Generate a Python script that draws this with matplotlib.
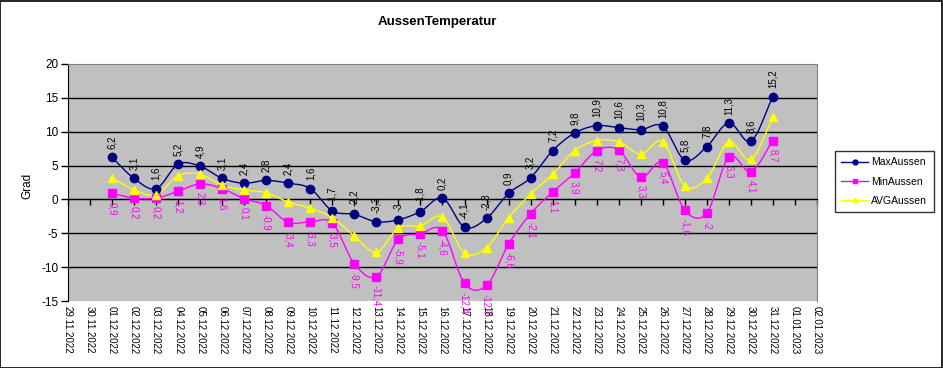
import matplotlib
matplotlib.use("Agg")
import matplotlib.pyplot as plt
import matplotlib.transforms as mtransforms
from matplotlib.lines import Line2D
from matplotlib.patches import Rectangle
import numpy as np
import pandas as pd

plt.rcParams.update({
    "font.family": ["Liberation Sans", "DejaVu Sans"],
})

# ================================================================
# Data
# ================================================================
axis_start = "2022-11-29"
axis_end = "2023-01-02"
data_start = "2022-12-01"

max_aussen = [6.2, 3.1, 1.6, 5.2, 4.9, 3.1, 2.4, 2.8, 2.4, 1.6, -1.7, -2.2, -3.3, -3, -1.8,
              0.2, -4.1, -2.8, 0.9, 3.2, 7.2, 9.8, 10.9, 10.6, 10.3, 10.8, 5.8, 7.8, 11.3, 8.6, 15.2]
min_aussen = [0.9, 0.2, 0.2, 1.2, 2.3, 1.6, 0.1, -0.9, -3.4, -3.3, -3.5, -9.5, -11.4, -5.9, -5.1,
              -4.6, -12.4, -12.7, -6.6, -2.1, 1.1, 3.9, 7.2, 7.3, 3.3, 5.4, -1.6, -2, 6.3, 4.1, 8.7]
avg_aussen = [3.2, 1.4, 0.7, 3.5, 3.7, 2.1, 1.4, 1.0, -0.4, -1.3, -2.7, -5.4, -7.8, -4.2, -3.9,
              -2.6, -7.9, -7.1, -2.7, 0.8, 3.7, 7.2, 8.7, 8.5, 6.7, 8.5, 2.0, 3.1, 8.5, 5.9, 12.1]

y_ticks = [-15, -10, -5, 0, 5, 10, 15, 20]

axis_dates = pd.date_range(axis_start, axis_end, freq="D")
tick_labels = [d.strftime("%d.%m.%Y") for d in axis_dates]
data_dates = pd.date_range(data_start, periods=len(max_aussen), freq="D")

x_axis = np.arange(len(axis_dates))
x_data = np.array([(d - axis_dates[0]).days for d in data_dates])


def smooth(x, y, n=12):
    """Catmull-Rom curve through the points (like Excel's smoothed line)."""
    x = np.asarray(x, float)
    y = np.asarray(y, float)
    px = np.concatenate([[2 * x[0] - x[1]], x, [2 * x[-1] - x[-2]]])
    py = np.concatenate([[2 * y[0] - y[1]], y, [2 * y[-1] - y[-2]]])
    xs, ys = [], []
    t = np.linspace(0, 1, n, endpoint=False)
    for i in range(1, len(px) - 2):
        p0, p1, p2, p3 = py[i - 1], py[i], py[i + 1], py[i + 2]
        q0, q1, q2, q3 = px[i - 1], px[i], px[i + 1], px[i + 2]
        for arr, a0, a1, a2, a3 in ((xs, q0, q1, q2, q3), (ys, p0, p1, p2, p3)):
            arr.extend(0.5 * ((2 * a1) + (-a0 + a2) * t
                              + (2 * a0 - 5 * a1 + 4 * a2 - a3) * t ** 2
                              + (-a0 + 3 * a1 - 3 * a2 + a3) * t ** 3))
    xs.append(x[-1])
    ys.append(y[-1])
    return np.array(xs), np.array(ys)


def fmt(v):
    return f"{v:g}".replace(".", ",")


# ================================================================
# Figure
# ================================================================
fig = plt.figure(figsize=(9.43, 3.68), dpi=100)
fig.patch.set_facecolor("white")
fig.patches.append(Rectangle((0.0005, 0.001), 0.998, 0.997, transform=fig.transFigure,
                             fill=False, edgecolor="black", linewidth=1.2))

ax = fig.add_axes([68 / 943, 67 / 368, 749 / 943, 237 / 368])
ax.set_facecolor("#c0c0c0")
ax.set_xlim(x_axis[0], x_axis[-1])
ax.set_ylim(-15, 20)

for v in y_ticks[1:-1]:
    ax.axhline(v, color="black", linewidth=1.0, zorder=1)

series = [
    ("MaxAussen", max_aussen, "#000080", "o", 6),
    ("MinAussen", min_aussen, "#ff00ff", "s", 6),
    ("AVGAussen", avg_aussen, "#ffff00", "^", 6),
]
handles = []
for name, vals, col, mk, ms in series:
    sx, sy = smooth(x_data, vals)
    ax.plot(sx, sy, color=col, linewidth=1.0, zorder=3)
    ax.plot(x_data, vals, linestyle="none", marker=mk, markersize=ms,
            color=col, markeredgecolor=col, zorder=4)
    handles.append(Line2D([0], [0], color=col, marker=mk, markersize=3.5,
                          linewidth=1.0, label=name))

for x, v in zip(x_data, max_aussen):
    ax.annotate(fmt(v), (x, v), xytext=(0, 6), textcoords="offset points",
                rotation=90, ha="center", va="bottom", fontsize=7, color="black", zorder=5)
for x, v in zip(x_data, min_aussen):
    ax.annotate(fmt(v), (x, v), xytext=(0, -6), textcoords="offset points",
                rotation=270, ha="center", va="top", fontsize=7, color="#ff00ff", zorder=5)

# axes / ticks
ax.set_yticks(y_ticks)
ax.set_yticklabels([str(v) for v in y_ticks], fontsize=8.5)
ax.tick_params(axis="y", direction="out", length=5, width=1, pad=2)

ax.spines["bottom"].set_position(("data", 0))
ax.spines["bottom"].set_color("black")
ax.spines["left"].set_color("black")
ax.spines["top"].set_color("#808080")
ax.spines["right"].set_color("#808080")
ax.set_xticks(x_axis)
ax.set_xticklabels([])
ax.tick_params(axis="x", direction="out", length=4, width=1)

trans = mtransforms.blended_transform_factory(ax.transData, ax.transAxes)
for x, lab in zip(x_axis, tick_labels):
    ax.text(x, -0.02, lab, transform=trans, rotation=270, ha="center", va="top",
            fontsize=7, color="black")

fig.text(27 / 943, 1 - 186 / 368, "Grad", rotation=90, ha="center", va="center",
         fontsize=8.5)
fig.text(437 / 943, 1 - 22 / 368, "AussenTemperatur", ha="center", va="center",
         fontsize=9.5, fontweight="bold")

leg = fig.legend(handles=handles, loc="upper left",
                 bbox_to_anchor=(835 / 943, 1 - 151 / 368),
                 fontsize=7.5, frameon=True, fancybox=False, edgecolor="black",
                 handlelength=2.6, borderpad=0.6, labelspacing=0.9, handletextpad=0.3,
                 borderaxespad=0)
leg.get_frame().set_linewidth(1.0)

fig.savefig("out.png", dpi=100)
